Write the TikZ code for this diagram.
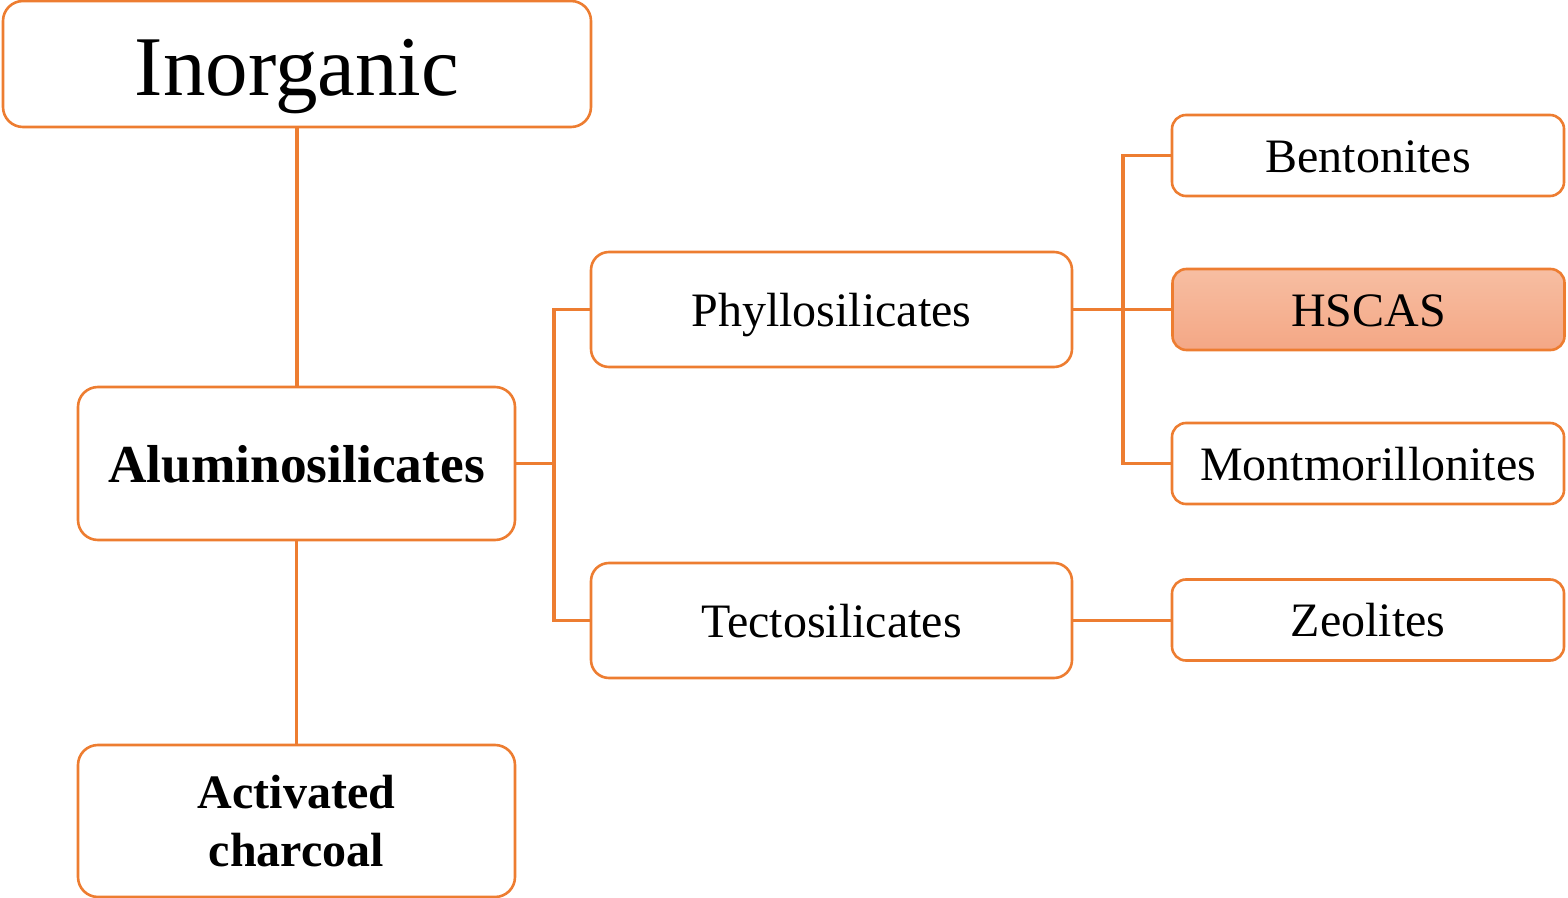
\documentclass[tikz,border=0pt]{standalone}
\usepackage{fontspec}
\setmainfont{Liberation Serif}
\usetikzlibrary{positioning}
\definecolor{boxorange}{HTML}{ED7D31}
\definecolor{fillA}{HTML}{F7BEA2}
\definecolor{fillB}{HTML}{F4A785}
\begin{document}
\begin{tikzpicture} [x = 0.5pt, y = -0.5pt, line width = 1.9pt, draw = boxorange]
\useasboundingbox (0,0) rectangle (1568,898);
\tikzset{
  bigbox/.style = {draw = boxorange, line width = 1.3pt, rounded corners = 10pt, inner sep = 0pt},
  smallbox/.style = {draw = boxorange, line width = 1.3pt, rounded corners = 7pt, inner sep = 0pt, minimum width = 196pt, minimum height = 40.5pt, text height = 16.8pt, text depth = 0pt, font = \fontsize{24}{27}\selectfont},
  midbox/.style = {draw = boxorange, line width = 1.3pt, rounded corners = 9pt, inner sep = 0pt, minimum width = 240.5pt, minimum height = 57.5pt, text height = 16.8pt, text depth = 0pt, font = \fontsize{24}{27}\selectfont}
}
\node[bigbox, minimum width = 294pt, minimum height = 63pt, text height = 31.5pt, text depth = 0pt, font = \fontsize{42.5}{46}\selectfont](inorg) at (297,64) {Inorganic};
\node[bigbox, minimum width = 218.5pt, minimum height = 76.5pt, text height = 19.2pt, text depth = 0pt, font = \bfseries\fontsize{26.7}{30}\selectfont](alum) at (296.5,463.5) {Aluminosilicates};
\node[bigbox, align = center, minimum width = 218.5pt, minimum height = 76pt, font = \bfseries\fontsize{24}{29}\selectfont](charc) at (296.5,821) {Activated\\charcoal};
\node[midbox](phyl) at (831.5,309.5) {Phyllosilicates};
\node[midbox](tect) at (831.5,620.5) {Tectosilicates};
\node[smallbox](bent) at (1368,155.5) {Bentonites};
\node[smallbox, top color = fillA, bottom color = fillB](hscas) at (1368.5,309.5) {HSCAS};
\node[smallbox](mont) at (1368,463.5) {Montmorillonites};
\node[smallbox](zeol) at (1368,620) {Zeolites};
\draw (inorg.south) -- (inorg.south |- alum.north);
\draw (alum.south) -- (alum.south |- charc.north);
\draw (alum.east) -- ++(38,0) |- (phyl.west);
\draw (alum.east) -- ++(38,0) |- (tect.west);
\draw (phyl.east) -- ++(50,0) |- (bent.west);
\draw (phyl.east) -- (phyl.east -| hscas.west);
\draw (phyl.east) -- ++(50,0) |- (mont.west);
\draw (tect.east) -- (tect.east -| zeol.west);
\end{tikzpicture}
\end{document}
